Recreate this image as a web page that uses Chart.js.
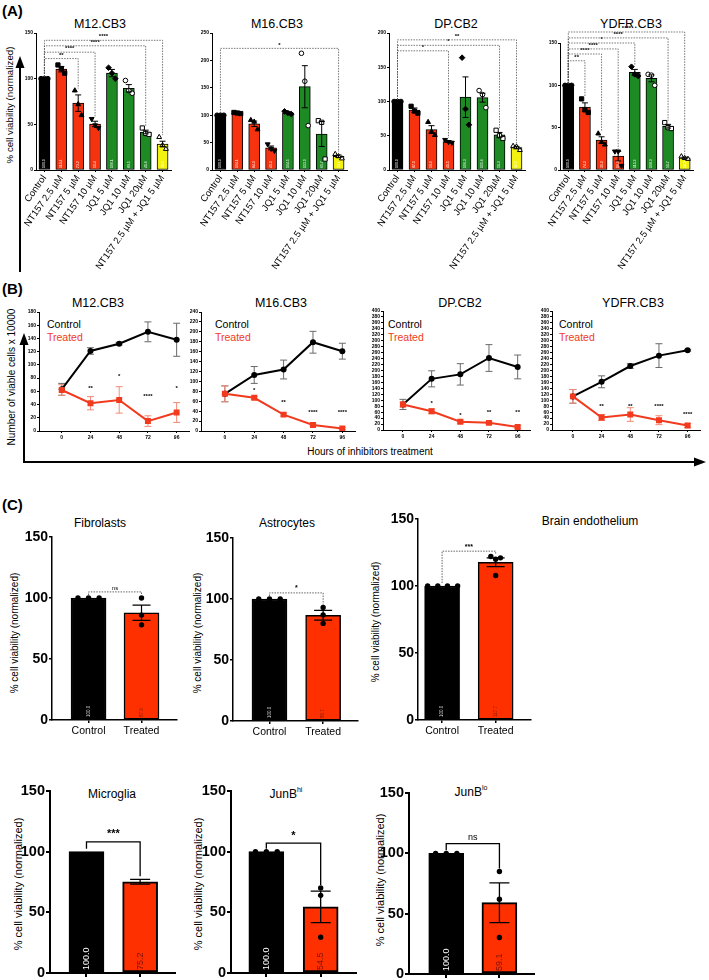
<!DOCTYPE html>
<html>
<head>
<meta charset="utf-8">
<title>Cell viability figure</title>
<script src="https://cdn.jsdelivr.net/npm/chart.js@4.4.1/dist/chart.umd.min.js"></script>
<style>
  html, body { margin:0; padding:0; background:#fff; }
  body { position:relative; width:709px; height:980px; overflow:hidden; font-family:"Liberation Sans", Arial, Helvetica, sans-serif; color:#000; }
  canvas { position:absolute; }
  .lbl { position:absolute; white-space:nowrap; line-height:1; transform:translate(-50%,-50%); }
  .leg { position:absolute; white-space:nowrap; line-height:1; transform:translate(0,-50%); font-size:10.5px; }
  .vlbl { position:absolute; white-space:nowrap; line-height:1; transform:translate(-50%,-50%) rotate(-90deg); }
  .panel { position:absolute; font-weight:bold; font-size:15px; line-height:1; }
  sup { font-size:7px; vertical-align:top; position:relative; top:-2px; }
  svg { position:absolute; left:0; top:0; }
</style>
</head>
<body>
<svg width="709" height="980">
  <line x1="20" y1="272" x2="20" y2="66" stroke="#000" stroke-width="2"/>
  <polygon points="20,56 15.5,68 24.5,68" fill="#000"/>
  <polyline points="24,345 24,462 695,462" fill="none" stroke="#000" stroke-width="2"/>
  <polygon points="24,333 19.5,345 28.5,345" fill="#000"/>
  <polygon points="706,462 694,457.5 694,466.5" fill="#000"/>
</svg>

<div class="panel" style="left:2px;top:3px;">(A)</div>
<div class="vlbl" style="left:10px;top:105px;font-size:9.7px;">% cell viability (normalized)</div>
<div class="lbl" style="left:100px;top:24px;font-size:12.5px;">M12.CB3</div>
<div class="lbl" style="left:277px;top:24px;font-size:12.5px;">M16.CB3</div>
<div class="lbl" style="left:456px;top:24px;font-size:12.5px;">DP.CB2</div>
<div class="lbl" style="left:631px;top:24px;font-size:12.5px;">YDFR.CB3</div>

<div class="panel" style="left:2px;top:281px;">(B)</div>
<div class="lbl" style="left:98px;top:303px;font-size:12.5px;">M12.CB3</div>
<div class="lbl" style="left:281px;top:303px;font-size:12.5px;">M16.CB3</div>
<div class="lbl" style="left:460px;top:303px;font-size:12.5px;">DP.CB2</div>
<div class="lbl" style="left:633px;top:303px;font-size:12.5px;">YDFR.CB3</div>
<div class="vlbl" style="left:12px;top:377px;font-size:10px;">Number of viable cells x 10000</div>
<div class="lbl" style="left:370px;top:452px;font-size:10px;">Hours of inhibitors treatment</div>
<div class="leg" style="left:47px;top:324px;">Control</div>
<div class="leg" style="left:47px;top:337px;color:#f23a1e;">Treated</div>
<div class="leg" style="left:215px;top:324px;">Control</div>
<div class="leg" style="left:215px;top:337px;color:#f23a1e;">Treated</div>
<div class="leg" style="left:388px;top:324px;">Control</div>
<div class="leg" style="left:388px;top:337px;color:#f23a1e;">Treated</div>
<div class="leg" style="left:559px;top:324px;">Control</div>
<div class="leg" style="left:559px;top:337px;color:#f23a1e;">Treated</div>

<div class="panel" style="left:2px;top:497px;">(C)</div>
<div class="lbl" style="left:100px;top:523px;font-size:12px;">Fibrolasts</div>
<div class="lbl" style="left:287px;top:523px;font-size:12px;">Astrocytes</div>
<div class="lbl" style="left:590px;top:521px;font-size:12px;">Brain endothelium</div>
<div class="vlbl" style="left:15px;top:633px;font-size:10px;">% cell viability (normalized)</div>
<div class="vlbl" style="left:198px;top:633px;font-size:10px;">% cell viability (normalized)</div>
<div class="vlbl" style="left:376px;top:622px;font-size:10px;">% cell viability (normalized)</div>
<div class="lbl" style="left:112px;top:794px;font-size:12px;">Microglia</div>
<div class="lbl" style="left:286px;top:794px;font-size:12px;">JunB<sup>hi</sup></div>
<div class="lbl" style="left:471px;top:792px;font-size:12px;">JunB<sup>lo</sup></div>
<div class="vlbl" style="left:18px;top:884px;font-size:11px;">% cell viability (normalized)</div>
<div class="vlbl" style="left:198px;top:884px;font-size:11px;">% cell viability (normalized)</div>
<div class="vlbl" style="left:380px;top:880px;font-size:11px;">% cell viability (normalized)</div>

<script>
// ================= DATA =================
// ---- Panel A: normalized viability, 8 treatments ----
const aCategories = ['Control', 'NT157 2.5 µM', 'NT157 5 µM', 'NT157 10 µM', 'JQ1 5 µM', 'JQ1 10 µM', 'JQ1 20µM', 'NT157 2.5 µM + JQ1 5 µM'];

const aM12Ticks = [0, 50, 100, 150];
const aM12Means = [100.0, 110.4, 73.2, 50.4, 106.1, 89.5, 41.6, 28.5];
const aM12Sem = [0, 3.0, 9.0, 3.0, 4.0, 4.0, 2.0, 3.0];
const aM12Points = [[100, 100, 100], [115, 111, 106], [87, 72, 60], [56, 49, 46], [112, 106, 100], [98, 87, 84], [46, 40, 39], [36, 27, 23]];
const aM12Brackets = [[0, 2, 122, '**'], [0, 3, 129, '****'], [0, 6, 136, '****'], [0, 7, 142, '****']];

const aM16Ticks = [0, 50, 100, 150, 200, 250];
const aM16Means = [100.0, 104.1, 84.3, 40.3, 104.5, 152.0, 65.7, 25.1];
const aM16Sem = [0, 0.8, 5.0, 3.5, 1.8, 38.4, 22.8, 2.3];
const aM16Points = [[100, 100, 100], [105, 104, 103], [91, 88, 74], [47, 39, 35], [107, 104, 102], [213, 162, 81], [90, 87, 20], [29, 25, 21]];
const aM16Brackets = [[0, 7, 222, '*']];

const aDPTicks = [0, 50, 100, 150, 200];
const aDPMeans = [100.0, 87.3, 59.0, 41.5, 106.3, 105.6, 51.3, 32.7];
const aDPSem = [0, 3.2, 5.7, 1.3, 29.6, 6.5, 3.5, 1.8];
const aDPPoints = [[100, 100, 100], [93, 86, 83], [70, 56, 51], [44, 41, 40], [164, 89, 66], [116, 110, 91], [58, 50, 46], [35, 34, 29]];
const aDPBrackets = [[0, 3, 174, '*'], [0, 6, 182, '*'], [0, 7, 190, '**']];

const aYDFRTicks = [0, 50, 100, 150];
const aYDFRMeans = [100.0, 74.3, 35.3, 16.3, 115.3, 108.3, 51.7, 14.3];
const aYDFRSem = [0, 5.0, 3.9, 5.7, 3.5, 4.1, 2.2, 0.9];
const aYDFRPoints = [[100, 100, 100], [84, 71, 68], [43, 33, 30], [22, 22, 5], [122, 113, 111], [113, 112, 100], [56, 50, 49], [16, 14, 13]];
const aYDFRBrackets = [[0, 1, 129, '**'], [0, 2, 137, '****'], [0, 3, 143, '****'], [0, 4, 150, '*'], [0, 6, 156, '****'], [0, 7, 163, '****']];

// ---- Panel B: viable cells (x 10000) over time ----
const bHours = [0, 24, 48, 72, 96];

const bM12Ticks = [0, 20, 40, 60, 80, 100, 120, 140, 160, 180];
const bM12Control = [63, 121, 132, 150, 138];
const bM12ControlSem = [9, 5, 2, 15, 25];
const bM12Treated = [62, 42, 47, 15, 28];
const bM12TreatedSem = [8, 10, 20, 8, 15];
const bM12Stars = ['', '**', '*', '****', '*'];
const bM12StarAt = [0, 65, 82, 52, 65];

const bM16Ticks = [0, 20, 40, 60, 80, 100, 120, 140, 160, 180, 200, 220, 240];
const bM16Control = [75, 113, 124, 179, 161];
const bM16ControlSem = [16, 17, 19, 22, 16];
const bM16Treated = [75, 67, 33, 12, 5];
const bM16TreatedSem = [16, 3, 3, 2, 2];
const bM16Stars = ['', '*', '**', '****', '****'];
const bM16StarAt = [0, 81, 57, 38, 38];

const bWideTicks = [0, 20, 40, 60, 80, 100, 120, 140, 160, 180, 200, 220, 240, 260, 280, 300, 320, 340, 360, 380, 400];

const bDPControl = [86, 172, 187, 242, 212];
const bDPControlSem = [17, 27, 36, 45, 40];
const bDPTreated = [86, 63, 28, 24, 10];
const bDPTreatedSem = [8, 8, 5, 4, 4];
const bDPStars = ['', '*', '*', '**', '**'];
const bDPStarAt = [0, 88, 48, 61, 61];

const bYDFRControl = [113, 162, 215, 250, 268];
const bYDFRControlSem = [23, 20, 8, 40, 3];
const bYDFRTreated = [113, 42, 52, 33, 15];
const bYDFRTreatedSem = [23, 10, 23, 15, 7];
const bYDFRStars = ['', '**', '**', '****', '****'];
const bYDFRStarAt = [0, 78, 78, 78, 51];

// ---- Panel C: normal cells vs treated ----
const cGroups = ['Control', 'Treated'];
const cTicks = [0, 50, 100, 150];

const cFibroMeans = [100.0, 87.9];
const cFibroSem = [0, 6.3];
const cFibroPoints = [[100, 100, 100], [100, 86, 78]];
const cFibroBrackets = [[0, 1, 105, 'ns']];

const cAstroMeans = [100.0, 86.7];
const cAstroSem = [0, 4.0];
const cAstroPoints = [[100, 100, 100], [93, 87, 80]];
const cAstroBrackets = [[0, 1, 105, '*']];

const cBrainMeans = [100.0, 117.7];
const cBrainSem = [0, 3.3];
const cBrainPoints = [[100, 100, 100, 100], [122, 121, 120, 107.8]];
const cBrainBrackets = [[0, 1, 126, '***']];

const cMicroMeans = [100.0, 75.2];
const cMicroSem = [0, 2.0];
const cMicroPoints = [[], []];
const cMicroBrackets = [[0, 1, 108, '***']];

const cJunHiMeans = [100.0, 54.5];
const cJunHiSem = [0, 13.0];
const cJunHiPoints = [[100, 100, 100], [70, 64, 29.5]];
const cJunHiBrackets = [[0, 1, 107, '*']];

const cJunLoMeans = [100.0, 59.1];
const cJunLoSem = [0, 16.5];
const cJunLoPoints = [[100, 100, 100], [85, 62, 30.3]];
const cJunLoBrackets = [[0, 1, 108, 'ns']];

// ================= STYLE / HELPERS =================
const FONT = '"Liberation Sans", Arial, Helvetica, sans-serif';
Chart.defaults.font.family = FONT;
Chart.defaults.color = '#000';

const RED_A = '#f7330f', GREEN = '#1d8a24', YELLOW = '#f3f20e', RED_B = '#f23a1e', RED_C = '#ff3000';

function mkCanvas(box, pad) {
  const c = document.createElement('canvas');
  const w = Math.round(box.x1 - box.x0 + pad.l + pad.r);
  const h = Math.round(box.y1 - box.y0 + pad.t + pad.b);
  c.width = w; c.height = h;
  c.style.left = Math.round(box.x0 - pad.l) + 'px';
  c.style.top = Math.round(box.y0 - pad.t) + 'px';
  c.style.width = w + 'px'; c.style.height = h + 'px';
  document.body.appendChild(c);
  return c;
}

function txt(ctx, s, x, y, font, color, align, base, rot) {
  ctx.save();
  ctx.translate(x, y);
  if (rot) ctx.rotate(rot);
  ctx.font = font; ctx.fillStyle = color;
  ctx.textAlign = align || 'center'; ctx.textBaseline = base || 'middle';
  ctx.fillText(s, 0, 0);
  ctx.restore();
}

function errBar(ctx, x, yTop, yBot, cap, color, w) {
  ctx.save();
  ctx.strokeStyle = color; ctx.lineWidth = w; ctx.setLineDash([]);
  ctx.beginPath();
  ctx.moveTo(x, yTop); ctx.lineTo(x, yBot);
  ctx.moveTo(x - cap, yTop); ctx.lineTo(x + cap, yTop);
  ctx.moveTo(x - cap, yBot); ctx.lineTo(x + cap, yBot);
  ctx.stroke();
  ctx.restore();
}

function axisCommon(st) {
  return {
    grid: { display: true, offset: false, drawOnChartArea: false, drawTicks: true, tickLength: st.tickLen, color: '#000', lineWidth: st.axisW },
    border: { display: true, color: '#000', width: st.axisW }
  };
}

function barChart(o) {
  const st = o.st;
  const c = mkCanvas(o.box, o.pad);
  const datasets = [{
    type: 'bar',
    data: o.means.map((v, i) => ({ x: i, y: v })),
    backgroundColor: o.colors,
    borderColor: '#000', borderWidth: st.barBorder, borderSkipped: false,
    barThickness: st.barW, order: 10
  }];
  o.points.forEach((arr, i) => {
    if (!arr || !arr.length) return;
    const mk = o.markers[i];
    const offs = o.offsets[i];
    datasets.push({
      type: 'scatter',
      data: arr.map((v, k) => ({ x: i + offs[k], y: v })),
      pointStyle: mk.style, pointRotation: mk.rot || 0, pointRadius: mk.r,
      pointBackgroundColor: mk.fill, pointBorderColor: '#000', pointBorderWidth: mk.bw,
      order: 0
    });
  });
  const topOf = i => {
    const pts = (o.points[i] && o.points[i].length) ? o.points[i] : [o.means[i]];
    return Math.max(o.means[i] + (o.sems[i] || 0), ...pts);
  };
  return new Chart(c, {
    type: 'bar',
    data: { datasets },
    options: {
      responsive: false, animation: false, devicePixelRatio: 1,
      layout: { padding: { left: 0, top: o.pad.t, right: o.pad.r, bottom: 0 } },
      plugins: { legend: { display: false }, tooltip: { enabled: false }, title: { display: false } },
      scales: {
        x: Object.assign({
          type: 'linear', bounds: 'data', min: o.xmin, max: o.xmax, offset: false,
          afterBuildTicks: s => { s.ticks = o.cats.map((_, i) => ({ value: i })); },
          afterFit: s => { s.height = o.pad.b; s.paddingLeft = 0; s.paddingRight = 0; },
          ticks: { display: st.showX, autoSkip: false, minRotation: st.xRot, maxRotation: st.xRot, font: st.xFont, padding: st.xPad, color: '#000', callback: v => o.cats[v] }
        }, axisCommon(st)),
        y: Object.assign({
          type: 'linear', min: o.yTicks[0], max: o.yTicks[o.yTicks.length - 1],
          afterBuildTicks: s => { s.ticks = o.yTicks.map(v => ({ value: v })); },
          afterFit: s => { s.width = o.pad.l; s.paddingTop = 0; s.paddingBottom = 0; },
          ticks: { font: st.yFont, padding: st.yPad, color: '#000' }
        }, axisCommon(st))
      }
    },
    plugins: [{
      id: 'annot',
      afterDatasetsDraw(chart) {
        const ctx = chart.ctx, xs = chart.scales.x, ys = chart.scales.y;
        o.means.forEach((m, i) => {
          const s = o.sems[i];
          if (!s) return;
          errBar(ctx, xs.getPixelForValue(i), ys.getPixelForValue(m + s), ys.getPixelForValue(m - s), st.cap, '#000', st.errW);
        });
        o.means.forEach((m, i) => {
          txt(ctx, m.toFixed(1), xs.getPixelForValue(i), ys.getPixelForValue(0) - st.valOff, st.valFont, st.valColors[i], 'left', 'middle', -Math.PI / 2);
        });
        const br = st.br;
        o.brackets.forEach(([a, b, yv, label]) => {
          const xa = xs.getPixelForValue(a), xb = xs.getPixelForValue(b), yy = ys.getPixelForValue(yv);
          const ya = ys.getPixelForValue(topOf(a)) - br.gap, yb = ys.getPixelForValue(topOf(b)) - br.gap;
          ctx.save();
          ctx.strokeStyle = br.color; ctx.lineWidth = br.w; ctx.setLineDash(br.dash);
          ctx.beginPath();
          ctx.moveTo(xa, ya); ctx.lineTo(xa, yy); ctx.lineTo(xb, yy); ctx.lineTo(xb, yb);
          ctx.stroke();
          ctx.restore();
          txt(ctx, label, (xa + xb) / 2, yy - br.lblOff, label === 'ns' ? br.nsFont : br.font, '#000', 'center', 'bottom');
        });
      }
    }]
  });
}

function lineChart(o) {
  const st = o.st;
  const c = mkCanvas(o.box, o.pad);
  const mkData = arr => o.hours.map((h, i) => ({ x: h, y: arr[i] }));
  return new Chart(c, {
    type: 'line',
    data: {
      datasets: [
        { label: 'Treated', data: mkData(o.treated), borderColor: RED_B, backgroundColor: RED_B, borderWidth: 2,
          pointStyle: 'rect', pointRadius: 4.2, pointBackgroundColor: RED_B, pointBorderColor: RED_B, pointBorderWidth: 0, tension: 0, order: 0 },
        { label: 'Control', data: mkData(o.control), borderColor: '#000', backgroundColor: '#000', borderWidth: 2,
          pointStyle: 'circle', pointRadius: 3, pointBackgroundColor: '#000', pointBorderColor: '#000', pointBorderWidth: 0, tension: 0, order: 1 }
      ]
    },
    options: {
      responsive: false, animation: false, devicePixelRatio: 1,
      layout: { padding: { left: 0, top: o.pad.t, right: o.pad.r, bottom: 0 } },
      plugins: { legend: { display: false }, tooltip: { enabled: false }, title: { display: false } },
      scales: {
        x: Object.assign({
          type: 'linear', bounds: 'data', min: o.xmin, max: o.xmax, offset: false,
          afterBuildTicks: s => { s.ticks = o.hours.map(v => ({ value: v })); },
          afterFit: s => { s.height = o.pad.b; s.paddingLeft = 0; s.paddingRight = 0; },
          ticks: { autoSkip: false, maxRotation: 0, font: st.tickFont, padding: 2, color: '#000' }
        }, axisCommon(st)),
        y: Object.assign({
          type: 'linear', min: o.yTicks[0], max: o.yTicks[o.yTicks.length - 1],
          afterBuildTicks: s => { s.ticks = o.yTicks.map(v => ({ value: v })); },
          afterFit: s => { s.width = o.pad.l; s.paddingTop = 0; s.paddingBottom = 0; },
          ticks: { autoSkip: false, font: st.tickFont, padding: 1, color: '#000' }
        }, axisCommon(st))
      }
    },
    plugins: [{
      id: 'annot',
      beforeDatasetsDraw(chart) {
        const ctx = chart.ctx, xs = chart.scales.x, ys = chart.scales.y;
        o.hours.forEach((h, i) => {
          const px = xs.getPixelForValue(h);
          errBar(ctx, px, ys.getPixelForValue(o.control[i] + o.controlSem[i]), ys.getPixelForValue(o.control[i] - o.controlSem[i]), 3.5, '#6a6a6a', 1);
          errBar(ctx, px, ys.getPixelForValue(o.treated[i] + o.treatedSem[i]), ys.getPixelForValue(o.treated[i] - o.treatedSem[i]), 3.5, '#f48a76', 1);
        });
      },
      afterDatasetsDraw(chart) {
        const ctx = chart.ctx, xs = chart.scales.x, ys = chart.scales.y;
        o.hours.forEach((h, i) => {
          if (o.stars[i]) txt(ctx, o.stars[i], xs.getPixelForValue(h), ys.getPixelForValue(o.starAt[i]), 'bold 6px ' + FONT, '#000', 'center', 'middle');
        });
      }
    }]
  });
}

// ================= PANEL A =================
const aColors = ['#000000', RED_A, RED_A, RED_A, GREEN, GREEN, GREEN, YELLOW];
const aMarkers = [
  { style: 'circle', r: 2.3, fill: '#000', bw: 1 },
  { style: 'rect', r: 3.0, fill: '#000', bw: 1 },
  { style: 'triangle', r: 2.8, fill: '#000', bw: 1 },
  { style: 'triangle', rot: 180, r: 2.8, fill: '#000', bw: 1 },
  { style: 'rectRot', r: 2.8, fill: '#000', bw: 1 },
  { style: 'circle', r: 2.3, fill: '#fff', bw: 1 },
  { style: 'rect', r: 3.0, fill: '#fff', bw: 1 },
  { style: 'triangle', r: 2.8, fill: '#fff', bw: 1 }
];
const aOffsets = aCategories.map(() => [-0.2, 0, 0.2]);
const aStyle = {
  barW: 11, barBorder: 1, axisW: 1, tickLen: 2, showX: true, xRot: 55,
  xFont: { size: 9.5 }, xPad: 1, yFont: { size: 5, weight: 'bold' }, yPad: 1,
  cap: 3, errW: 1, valOff: 2, valFont: '3.5px ' + FONT,
  valColors: aCategories.map(() => '#ffffff'),
  br: { color: '#555', w: 0.8, dash: [1.5, 1.2], gap: 2, lblOff: 0.5, font: 'bold 6px ' + FONT, nsFont: '6px ' + FONT }
};
const aPad = { l: 26, t: 12, r: 6, b: 102 };

barChart({ box: { x0: 36, y0: 33, x1: 171, y1: 170 }, pad: aPad, xmin: -0.5, xmax: 7.5, cats: aCategories, yTicks: aM12Ticks,
  means: aM12Means, sems: aM12Sem, points: aM12Points, brackets: aM12Brackets, colors: aColors, markers: aMarkers, offsets: aOffsets, st: aStyle });
barChart({ box: { x0: 212, y0: 33, x1: 347, y1: 170 }, pad: aPad, xmin: -0.5, xmax: 7.5, cats: aCategories, yTicks: aM16Ticks,
  means: aM16Means, sems: aM16Sem, points: aM16Points, brackets: aM16Brackets, colors: aColors, markers: aMarkers, offsets: aOffsets, st: aStyle });
barChart({ box: { x0: 389, y0: 33, x1: 525, y1: 170 }, pad: aPad, xmin: -0.5, xmax: 7.5, cats: aCategories, yTicks: aDPTicks,
  means: aDPMeans, sems: aDPSem, points: aDPPoints, brackets: aDPBrackets, colors: aColors, markers: aMarkers, offsets: aOffsets, st: aStyle });
barChart({ box: { x0: 560, y0: 43, x1: 693, y1: 170 }, pad: { l: 26, t: 20, r: 6, b: 102 }, xmin: -0.5, xmax: 7.5, cats: aCategories, yTicks: aYDFRTicks,
  means: aYDFRMeans, sems: aYDFRSem, points: aYDFRPoints, brackets: aYDFRBrackets, colors: aColors, markers: aMarkers, offsets: aOffsets, st: aStyle });

// ================= PANEL B =================
const bStyle = { axisW: 1, tickLen: 2, tickFont: { size: 5, weight: 'bold' } };
const bPad = { l: 20, t: 8, r: 4, b: 12 };
lineChart({ box: { x0: 39, y0: 312, x1: 190, y1: 431 }, pad: bPad, xmin: -19, xmax: 107, hours: bHours, yTicks: bM12Ticks,
  control: bM12Control, controlSem: bM12ControlSem, treated: bM12Treated, treatedSem: bM12TreatedSem, stars: bM12Stars, starAt: bM12StarAt, st: bStyle });
lineChart({ box: { x0: 201, y0: 312, x1: 356, y1: 431 }, pad: bPad, xmin: -19.5, xmax: 107, hours: bHours, yTicks: bM16Ticks,
  control: bM16Control, controlSem: bM16ControlSem, treated: bM16Treated, treatedSem: bM16TreatedSem, stars: bM16Stars, starAt: bM16StarAt, st: bStyle });
lineChart({ box: { x0: 383, y0: 311, x1: 531, y1: 430 }, pad: bPad, xmin: -16.7, xmax: 107, hours: bHours, yTicks: bWideTicks,
  control: bDPControl, controlSem: bDPControlSem, treated: bDPTreated, treatedSem: bDPTreatedSem, stars: bDPStars, starAt: bDPStarAt, st: bStyle });
lineChart({ box: { x0: 552, y0: 311, x1: 701, y1: 430 }, pad: bPad, xmin: -17.5, xmax: 107, hours: bHours, yTicks: bWideTicks,
  control: bYDFRControl, controlSem: bYDFRControlSem, treated: bYDFRTreated, treatedSem: bYDFRTreatedSem, stars: bYDFRStars, starAt: bYDFRStarAt, st: bStyle });

// ================= PANEL C =================
const cColors = ['#000000', RED_C];
const cMarkers = [{ style: 'circle', r: 2.7, fill: '#000', bw: 0 }, { style: 'circle', r: 2.7, fill: '#000', bw: 0 }];
const cOff3 = [[-0.2, 0, 0.2], [0, 0, 0]];
const cOff4 = [[-0.27, -0.08, 0.1, 0.29], [-0.09, 0.09, 0, 0]];
const cRow1Style = {
  barW: 35, barBorder: 1.5, axisW: 1.5, tickLen: 3, showX: true, xRot: 0,
  xFont: { size: 10.5 }, xPad: 2, yFont: { size: 14, weight: 'bold' }, yPad: 1,
  cap: 9, errW: 1.2, valOff: 3, valFont: '4.5px ' + FONT, valColors: ['#dddddd', '#7a1a0c'],
  br: { color: '#555', w: 0.9, dash: [1.5, 1.2], gap: 3, lblOff: 1, font: 'bold 7px ' + FONT, nsFont: '6px ' + FONT }
};
const cRow2Style = {
  barW: 35, barBorder: 2, axisW: 2, tickLen: 4, showX: false, xRot: 0,
  xFont: { size: 10 }, xPad: 2, yFont: { size: 14.5, weight: 'bold' }, yPad: 1,
  cap: 10, errW: 1.3, valOff: 3, valFont: '9px ' + FONT, valColors: ['#ffffff', '#7a1208'],
  br: { color: '#000', w: 1.3, dash: [], gap: 3, lblOff: 2, font: 'bold 11px ' + FONT, nsFont: '9px ' + FONT }
};
const cPad1 = { l: 40, t: 20, r: 6, b: 24 };
const cPad2 = { l: 40, t: 12, r: 6, b: 7 };

barChart({ box: { x0: 52, y0: 537, x1: 177, y1: 720 }, pad: cPad1, xmin: -0.69, xmax: 1.67, cats: cGroups, yTicks: cTicks,
  means: cFibroMeans, sems: cFibroSem, points: cFibroPoints, brackets: cFibroBrackets, colors: cColors, markers: cMarkers, offsets: cOff3, st: cRow1Style });
barChart({ box: { x0: 233, y0: 538, x1: 358, y1: 721 }, pad: cPad1, xmin: -0.68, xmax: 1.65, cats: cGroups, yTicks: cTicks,
  means: cAstroMeans, sems: cAstroSem, points: cAstroPoints, brackets: cAstroBrackets, colors: cColors, markers: cMarkers, offsets: cOff3, st: cRow1Style });
barChart({ box: { x0: 418, y0: 519, x1: 531, y1: 720 }, pad: cPad1, xmin: -0.45, xmax: 1.66, cats: cGroups, yTicks: cTicks,
  means: cBrainMeans, sems: cBrainSem, points: cBrainPoints, brackets: cBrainBrackets, colors: cColors, markers: cMarkers, offsets: cOff4, st: cRow1Style });

barChart({ box: { x0: 50, y0: 791, x1: 175, y1: 973 }, pad: cPad2, xmin: -0.68, xmax: 1.65, cats: cGroups, yTicks: cTicks,
  means: cMicroMeans, sems: cMicroSem, points: cMicroPoints, brackets: cMicroBrackets, colors: cColors, markers: cMarkers, offsets: cOff3, st: cRow2Style });
barChart({ box: { x0: 231, y0: 791, x1: 356, y1: 973 }, pad: cPad2, xmin: -0.65, xmax: 1.65, cats: cGroups, yTicks: cTicks,
  means: cJunHiMeans, sems: cJunHiSem, points: cJunHiPoints, brackets: cJunHiBrackets, colors: cColors, markers: cMarkers, offsets: cOff3, st: cRow2Style });
barChart({ box: { x0: 409, y0: 793, x1: 534, y1: 974 }, pad: { l: 40, t: 12, r: 6, b: 6 }, xmin: -0.70, xmax: 1.65, cats: cGroups, yTicks: cTicks,
  means: cJunLoMeans, sems: cJunLoSem, points: cJunLoPoints, brackets: cJunLoBrackets, colors: cColors, markers: cMarkers, offsets: cOff3, st: cRow2Style });
</script>
</body>
</html>
